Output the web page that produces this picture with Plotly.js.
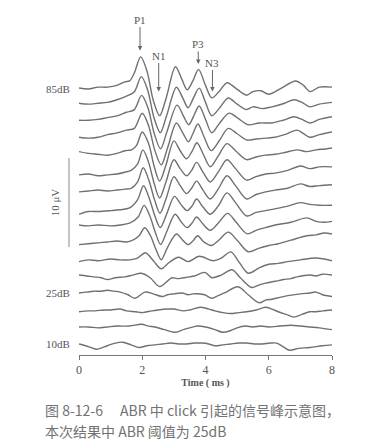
<!DOCTYPE html>
<html><head><meta charset="utf-8">
<script src="https://cdn.plot.ly/plotly-3.0.1.min.js"></script>
<style>html,body{margin:0;padding:0;background:#fff}#chart{width:370px;height:446px}</style>
</head><body><div id="chart"></div>
<script>
// Stimulus levels (dB), top to bottom
const levels = [85,80,75,70,65,60,55,50,45,40,35,30,25,20,15,10];
// Time (ms) and amplitude (µV, relative to each trace baseline) for each level
const t85 = [0,0.3,0.6,0.9,1.2,1.45,1.6,1.75,1.95,2.15,2.35,2.55,2.75,3.05,3.25,3.42,3.6,3.78,4.0,4.2,4.45,4.68,4.95,5.3,5.5,5.75,6.0,6.4,6.85,7.1,7.3,7.6,8.0];
const a85 = [0.1,0,0.2,0.2,0.4,0.8,0.9,1.8,3.6,2.0,-1.3,-3.0,-1.1,2.5,1.1,-0.1,0.9,2.2,0.4,-1.0,-0.2,0.7,0.1,-0.7,-0.3,-0.2,-0.6,0.1,0.9,0.4,-0.3,0.2,0.2];
const t80 = [0,0.3,0.6,0.9,1.2,1.5,1.75,1.97,2.17,2.37,2.57,2.77,3.08,3.28,3.45,3.62,3.8,4.0,4.2,4.45,4.72,5.0,5.3,5.5,5.8,6.1,6.5,6.8,7.05,7.3,7.6,8.0];
const a80 = [0.3,0.2,0.3,0.4,0.7,1.1,1.6,3.3,1.8,-1.3,-3.0,-1.1,2.1,0.9,-0.2,0.9,2.0,0.4,-1.1,-0.2,0.9,0.2,-0.4,-0.1,-0.3,-0.1,0.3,0.7,0.4,-0.1,0.2,0.4];
const t75 = [0,0.3,0.6,0.9,1.2,1.5,1.75,1.98,2.18,2.38,2.58,2.78,3.1,3.3,3.47,3.63,3.8,4.0,4.2,4.45,4.75,5.0,5.35,5.7,6.1,6.45,6.8,7.05,7.3,7.6,8.0];
const a75 = [0.3,0.3,0.4,0.6,0.8,1.2,1.5,3.1,1.7,-1.2,-2.9,-1.0,2.0,0.8,-0.2,0.8,1.9,0.4,-1.1,0,1.1,0.6,-0.2,0,0,0.3,0.7,0.4,0,0.4,0.7];
const t70 = [0,0.3,0.6,0.9,1.2,1.5,1.75,2.0,2.2,2.4,2.6,2.8,3.08,3.28,3.46,3.6,3.76,3.96,4.18,4.45,4.72,5.0,5.3,5.6,5.9,6.2,6.5,6.9,7.1,7.3,7.6,8.0];
const a70 = [0.3,0.2,0.3,0.6,0.8,1.1,1.3,3.0,1.6,-1.2,-2.8,-0.9,1.9,0.8,-0.2,0.7,1.8,0.3,-1.2,0,1.3,0.7,0,0.1,0.2,0.3,0.6,1.1,0.7,0.3,0.6,0.9];
const t65 = [0,0.3,0.6,0.9,1.2,1.45,1.66,1.82,2.0,2.2,2.38,2.55,2.75,3.0,3.2,3.4,3.57,3.73,3.93,4.15,4.4,4.68,4.95,5.3,5.6,5.9,6.2,6.5,6.9,7.2,7.5,7.8,8.0];
const a65 = [0.6,0.4,0.3,0.2,0.4,0.7,0.8,1.3,2.8,1.5,-1.1,-2.7,-0.9,1.8,0.7,-0.2,0.6,1.6,0.3,-1.1,0.1,1.5,0.7,-0.3,0,0.2,0.3,0.5,0.8,0.6,0.8,0.9,1.0];
const t60 = [0,0.3,0.6,0.9,1.2,1.45,1.65,1.85,2.02,2.2,2.38,2.55,2.75,3.0,3.2,3.4,3.56,3.72,3.92,4.15,4.4,4.68,4.95,5.3,5.6,5.9,6.2,6.6,7.0,7.3,7.6,8.0];
const a60 = [-0.1,0,-0.2,-0.1,0,0.2,0.4,1.1,2.7,1.3,-1.1,-2.7,-0.9,1.6,0.6,-0.2,0.4,1.3,0.2,-0.9,0.2,1.6,0.6,-0.7,-0.3,0,0.1,0.4,0.9,0.6,0.8,0.8];
const t55 = [0,0.3,0.6,0.9,1.2,1.45,1.65,1.85,2.03,2.21,2.39,2.56,2.76,3.0,3.2,3.4,3.56,3.72,3.92,4.15,4.4,4.68,4.95,5.3,5.6,5.9,6.2,6.6,7.0,7.3,7.6,8.0];
const a55 = [-0.1,0,0.1,0,0.1,0.2,0.3,1.0,2.6,1.2,-1.0,-2.5,-0.8,1.6,0.6,-0.3,0.3,1.1,0.1,-0.9,0.2,1.7,0.6,-0.9,-0.4,-0.1,0.1,0.3,0.8,0.5,0.6,0.7];
const t50 = [0,0.3,0.6,1.0,1.3,1.6,1.85,2.04,2.22,2.4,2.57,2.77,3.02,3.22,3.42,3.57,3.72,3.92,4.15,4.4,4.68,4.95,5.3,5.6,5.9,6.2,6.6,7.0,7.3,7.6,8.0];
const a50 = [-0.7,-0.4,-0.4,-0.3,-0.2,0,0.9,2.5,1.1,-0.9,-2.2,-0.7,1.3,0.4,-0.3,0.2,1.0,0.1,-0.7,0.2,1.7,0.6,-0.9,-0.5,-0.3,-0.1,0.2,0.6,0.4,0.3,0.3];
const t45 = [0,0.3,0.6,1.0,1.3,1.6,1.87,2.06,2.24,2.42,2.58,2.78,3.04,3.24,3.42,3.57,3.72,3.92,4.15,4.4,4.7,4.97,5.32,5.6,5.9,6.2,6.7,7.2,7.5,7.75,8.0];
const a45 = [0,-0.1,0,-0.1,0,0.2,0.9,2.2,1.0,-0.9,-2.2,-0.7,1.2,0.3,-0.3,0.2,0.9,0.1,-0.6,0.2,1.3,0.3,-1.0,-0.6,-0.3,0,0.3,0.8,0.4,0.3,0.4];
const t40 = [0,0.3,0.6,0.9,1.2,1.5,1.7,1.9,2.08,2.26,2.44,2.6,2.8,3.08,3.28,3.45,3.6,3.75,3.95,4.18,4.42,4.72,5.0,5.35,5.7,6.0,6.3,6.7,7.2,7.5,7.75,8.0];
const a40 = [-0.3,-0.2,-0.1,0,0.1,0,0.2,0.7,1.6,0.7,-0.9,-2.0,-0.6,0.9,0.2,-0.3,0.1,0.7,0,-0.4,0.2,1.1,0.2,-1.1,-0.7,-0.4,-0.2,0.2,0.7,0.8,1.0,0.9];
const t35 = [0,0.3,0.6,1.0,1.3,1.6,1.85,2.1,2.35,2.6,2.85,3.15,3.45,3.8,4.25,4.5,4.8,5.05,5.35,5.7,6.0,6.3,6.6,7.0,7.5,8.0];
const a35 = [-0.3,-0.1,-0.2,0,-0.1,-0.1,0.1,0.7,-0.2,-1.1,-0.4,0.2,-0.3,0.3,-0.2,0.1,0.8,-0.3,-1.6,-1.0,-0.6,-0.5,-0.3,-0.1,0.1,-0.2];
const t30 = [0,0.25,0.45,0.7,0.9,1.15,1.45,1.7,1.97,2.25,2.55,2.94,3.1,3.3,3.5,3.65,3.98,4.2,4.5,4.84,5.1,5.46,5.7,5.9,6.2,6.46,6.7,6.9,7.3,7.5,7.7,8.0];
const a30 = [0.1,0,-0.1,-0.2,-0.4,-0.2,-0.1,0.1,0.3,-0.2,-1.2,-0.2,-0.3,-0.2,-0.1,0,0.4,-0.2,0.1,0.7,-0.2,-1.3,-1.0,-0.8,-0.6,-0.4,-0.3,-0.1,0.1,0,0.2,0.1];
const t25 = [0,0.25,0.45,0.7,0.9,1.1,1.3,1.55,1.76,2.09,2.35,2.63,2.8,3.0,3.26,3.45,3.6,3.97,4.2,4.4,4.6,5.03,5.35,5.7,5.9,6.1,6.35,6.6,7.0,7.3,7.5,7.7,8.0];
const a25 = [0,0.1,0.2,0.2,0.3,0.2,0.1,-0.2,-0.6,0.1,-0.1,-0.4,-0.2,-0.1,0,-0.2,-0.1,-0.2,-0.6,-0.3,0,0.7,-0.2,-1.1,-0.8,-0.7,-0.5,-0.3,-0.1,0,0.1,-0.2,-0.4];
const t20 = [0,0.3,0.5,0.8,1.0,1.3,1.5,1.8,2.0,2.3,2.5,2.8,3.0,3.3,3.5,3.83,4.1,4.3,4.55,4.8,5.05,5.3,5.6,5.9,6.1,6.3,6.55,6.8,7.05,7.3,7.5,7.7,8.0];
const a20 = [-0.2,-0.1,-0.1,0,0,0.1,-0.1,-0.2,-0.3,-0.1,0,0.1,0.1,-0.1,0,0.3,0.1,-0.1,-0.3,-0.4,-0.3,-0.2,0,0.3,0.1,-0.2,-0.5,-0.8,-0.5,-0.2,-0.2,-0.1,0];
const t15 = [0,0.3,0.6,0.9,1.2,1.6,1.98,2.2,2.4,2.7,3.05,3.3,3.5,3.75,4.0,4.3,4.55,4.8,5.0,5.25,5.5,5.75,6.0,6.35,6.7,7.0,7.3,7.6,8.0];
const a15 = [0,0,-0.1,0,0.1,0.1,0.3,0.1,0,-0.3,-0.6,-0.3,-0.1,0.1,0,-0.3,-0.6,-0.4,-0.1,0.1,0,0.1,0,0.1,0.2,0.1,0,-0.1,-0.3];
const t10 = [0,0.3,0.55,0.9,1.15,1.38,1.65,1.9,2.15,2.4,2.65,2.9,3.15,3.4,3.65,3.9,4.1,4.3,4.55,4.8,5.05,5.3,5.55,5.8,6.05,6.25,6.45,6.65,6.95,7.3,7.7,8.0];
const a10 = [0,-0.3,-0.6,-0.2,0.1,0.2,-0.1,-0.4,-0.2,-0.1,0,0.1,0,0,0.1,0.1,0,-0.2,-0.1,0,0.1,0.1,0,0,0.1,0.1,-0.3,-0.7,-0.5,-0.4,-0.2,-0.1];
const xTicks = [0,2,4,6,8];
const labeledLevels = ['85dB','25dB','10dB'];

const times = [t85,t80,t75,t70,t65,t60,t55,t50,t45,t40,t35,t30,t25,t20,t15,t10];
const amps  = [a85,a80,a75,a70,a65,a60,a55,a50,a45,a40,a35,a30,a25,a20,a15,a10];

// stacking layout (µV)
const TOP = 29.89, STEP = 1.91;
const base = i => TOP - i*STEP;

const traces = levels.map((lv,i) => ({
  x: times[i], y: amps[i].map(v => v + base(i)),
  type:'scatter', mode:'lines', name: lv+'dB', showlegend:false, hoverinfo:'skip',
  line:{color:'#707070', width:1.4, shape:'spline', smoothing:0.9}
}));

const serif = 'Liberation Serif, Times New Roman, serif';
const annotations = [];
labeledLevels.forEach(s => {
  const i = levels.indexOf(parseInt(s));
  annotations.push({xref:'paper', yref:'y', x:-0.028, y: base(i), text:s, showarrow:false,
    xanchor:'right', yanchor:'middle', font:{family:serif, size:11, color:'#555'}});
});
const peaks = [
  {text:'P1', x:1.93, y:34.2, ay:-31},
  {text:'N1', x:2.52, y:29.6, ay:-36},
  {text:'P3', x:3.77, y:32.7, ay:-20},
  {text:'N3', x:4.22, y:29.6, ay:-29}
];
peaks.forEach(p => annotations.push({xref:'x', yref:'y', x:p.x, y:p.y, text:p.text, showarrow:true,
  ax:0, ay:p.ay, arrowhead:2, arrowsize:0.9, arrowwidth:1, arrowcolor:'#666', standoff:0,
  font:{family:serif, size:11, color:'#555'}}));
annotations.push({xref:'paper', yref:'y', x:-0.095, y:17.15, xanchor:'center', yanchor:'middle',
  text:'10 μV', showarrow:false, textangle:-90, font:{family:serif, size:11, color:'#555'}});
annotations.push({xref:'paper', yref:'paper', x:-0.142, y:-0.1594, xanchor:'left', yanchor:'middle', showarrow:false,
  text:'图 8-12-6　 ABR 中 click 引起的信号峰示意图，', font:{family:'Noto Sans CJK SC, sans-serif', size:14, color:'#727272'}});
annotations.push({xref:'paper', yref:'paper', x:-0.142, y:-0.2203, xanchor:'left', yanchor:'middle', showarrow:false,
  text:'本次结果中 ABR 阈值为 25dB', font:{family:'Noto Sans CJK SC, sans-serif', size:14, color:'#727272'}});

const layout = {
  width:370, height:446, margin:{l:79, r:38, t:10, b:91},
  paper_bgcolor:'#fff', plot_bgcolor:'#fff', showlegend:false,
  xaxis:{range:[0,8], tickvals:xTicks, ticks:'outside', ticklen:4, tickcolor:'#777', showline:true,
    linecolor:'#777', linewidth:1, showgrid:false, zeroline:false,
    tickfont:{family:serif, size:12, color:'#555'},
    title:{text:'<b>Time ( ms )</b>', font:{family:serif, size:10, color:'#555'}, standoff:2}},
  yaxis:{range:[0,38.76], visible:false, showgrid:false, zeroline:false},
  shapes:[{type:'line', xref:'paper', yref:'y', x0:-0.0395, x1:-0.0395, y0:12.13, y1:22.13,
    line:{color:'#888', width:1}}],
  annotations: annotations
};
Plotly.newPlot('chart', traces, layout, {staticPlot:true, displayModeBar:false});
</script></body></html>
